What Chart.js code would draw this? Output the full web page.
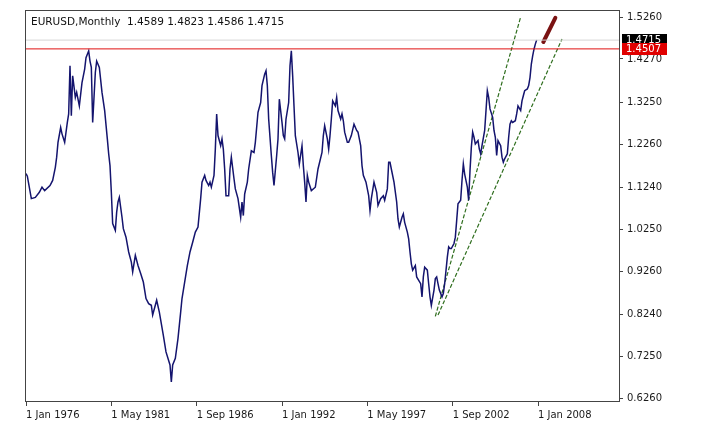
<!DOCTYPE html>
<html>
<head>
<meta charset="utf-8">
<script src="https://cdn.jsdelivr.net/npm/chart.js@4.4.1/dist/chart.umd.min.js"></script>
<style>
body{margin:0;background:#fff}
#grafica{display:block}
</style>
</head>
<body>
<canvas id="grafica" width="709" height="434"></canvas>
<script>
const $grafica = document.querySelector("#grafica");

const titulo = "EURUSD,Monthly  1.4589 1.4823 1.4586 1.4715";

// meses contados desde ene 1976
const meses = [
  0,1,4,7,10,12,14,18,20,22,
  23,24,26,27,29,31,32,33,34,35,
  37,38,40,42,44,45,47,48,49,50,
  52,53,55,57,59,61,62,63,64,65,
  67,68,69,70,72,73,75,77,79,80,
  82,84,86,88,90,92,94,95,98,100,
  103,105,108,109,110,112,114,116,117,119,
  121,123,125,127,129,131,132,134,135,137,
  138,139,141,142,143,144,146,147,148,149,
  150,152,153,154,156,157,159,161,162,163,
  164,166,167,169,171,172,174,176,177,179,
  180,181,182,184,185,186,188,189,190,192,
  193,194,195,197,198,199,200,201,202,204,
  205,207,208,209,210,211,212,214,217,219,
  222,223,224,226,227,228,229,230,232,233,
  234,236,237,238,239,241,242,244,246,248,
  249,251,252,253,255,257,258,259,261,263,
  264,266,268,269,271,272,273,274,276,278,
  279,280,282,283,284,286,287,288,289,290,
  292,293,296,297,298,299,301,302,303,304,
  306,307,308,309,310,312,313,314,316,317,
  318,319,321,322,323,324,326,327,328,329,
  331,332,333,334,335,336,337,339,340,341,
  342,344,345,346,347,348,350,351,352,353,
  354,356,357,358,359,361,362,363,364,365,
  367,368,369,371,372,373,374,376,377,378,
  379,380,381,382,383
];
const cierres = [
  1.156,1.150,1.097,1.100,1.112,1.124,1.116,1.128,1.140,1.171,
  1.195,1.230,1.265,1.250,1.230,1.277,1.297,1.411,1.293,1.387,
  1.336,1.348,1.316,1.371,1.403,1.430,1.446,1.422,1.407,1.277,
  1.395,1.422,1.407,1.348,1.305,1.238,1.203,1.175,1.112,1.038,
  1.022,1.065,1.089,1.100,1.053,1.026,1.006,0.971,0.947,0.924,
  0.963,0.939,0.920,0.900,0.861,0.849,0.845,0.822,0.857,0.829,
  0.774,0.735,0.704,0.664,0.704,0.720,0.767,0.829,0.861,0.900,
  0.939,0.971,0.994,1.018,1.030,1.097,1.136,1.152,1.140,1.128,
  1.136,1.124,1.152,1.214,1.297,1.246,1.222,1.238,1.214,1.167,
  1.104,1.104,1.167,1.195,1.144,1.120,1.097,1.053,1.089,1.057,
  1.108,1.136,1.167,1.210,1.206,1.230,1.301,1.324,1.364,1.391,
  1.399,1.364,1.285,1.199,1.159,1.128,1.199,1.238,1.332,1.277,
  1.246,1.238,1.285,1.324,1.411,1.446,1.387,1.316,1.246,1.206,
  1.179,1.222,1.175,1.136,1.089,1.152,1.136,1.116,1.124,1.167,
  1.206,1.246,1.269,1.238,1.214,1.246,1.285,1.328,1.316,1.336,
  1.305,1.285,1.297,1.281,1.254,1.230,1.230,1.246,1.273,1.258,
  1.254,1.222,1.175,1.152,1.136,1.104,1.069,1.097,1.136,1.112,
  1.081,1.097,1.104,1.093,1.120,1.183,1.183,1.167,1.136,1.089,
  1.049,1.030,1.053,1.061,1.041,1.018,1.002,0.971,0.943,0.928,
  0.939,0.912,0.896,0.865,0.912,0.935,0.928,0.896,0.865,0.845,
  0.881,0.908,0.912,0.896,0.881,0.865,0.873,0.896,0.959,0.983,
  0.979,0.979,0.991,1.006,1.045,1.085,1.093,1.140,1.179,1.155,
  1.124,1.093,1.163,1.218,1.254,1.242,1.226,1.234,1.214,1.203,
  1.222,1.258,1.305,1.352,1.336,1.309,1.289,1.258,1.242,1.199,
  1.234,1.222,1.195,1.183,1.191,1.203,1.242,1.273,1.281,1.277,
  1.281,1.297,1.316,1.305,1.328,1.340,1.352,1.356,1.364,1.383,
  1.415,1.434,1.450,1.462,1.4715
];

const marcasX = [0, 64, 128, 192, 256, 320, 384];
const etiquetasX = ["1 Jan 1976", "1 May 1981", "1 Sep 1986", "1 Jan 1992", "1 May 1997", "1 Sep 2002", "1 Jan 2008"];
const marcasY = [0.6260, 0.7250, 0.8240, 0.9260, 1.0250, 1.1240, 1.2260, 1.3250, 1.4270, 1.5260];

const nivelBid = 1.4715;
const nivelAlerta = 1.4507;

// lineas de tendencia (mes, precio)
const tendenciaA_x = [307, 371];
const tendenciaA_y = [0.819, 1.526];
const tendenciaB_x = [309, 402];
const tendenciaB_y = [0.822, 1.474];
// trazo a mano (flecha)
const trazo_x = [388, 397];
const trazo_y = [1.467, 1.524];

const xMin = -0.75, xMax = 444.75;
const yMin = 0.6166, yMax = 1.5426;

const puntos = (xs, ys) => xs.map((x, i) => ({ x: x, y: ys[i] }));

const marco = {
    id: 'marco',
    afterDraw(chart) {
        const { ctx, chartArea: a, scales } = chart;
        ctx.save();
        ctx.strokeStyle = '#444';
        ctx.lineWidth = 1;
        ctx.strokeRect(a.left + 0.5, a.top + 0.5, a.right - a.left, a.bottom - a.top - 1);
        ctx.font = '10.5px "DejaVu Sans"';
        ctx.textBaseline = 'middle';
        ctx.fillStyle = '#111';
        ctx.fillText(titulo, a.left + 6, a.top + 12);
        ctx.font = '10px "DejaVu Sans"';
        const caja = (v, fondo) => {
            const y = Math.round(scales.y.getPixelForValue(v));
            ctx.fillStyle = fondo;
            ctx.fillRect(a.right + 3, y - 6, 45, 12);
            ctx.fillStyle = '#fff';
            ctx.fillText(v.toFixed(4), a.right + 7, y);
        };
        caja(nivelBid, '#000');
        caja(nivelAlerta, '#e00000');
        ctx.restore();
    }
};

new Chart($grafica, {
    type: 'line',
    data: {
        datasets: [
            { data: puntos([xMin, xMax], [nivelBid, nivelBid]), borderColor: '#d6d6d6', borderWidth: 1 },
            { data: puntos([xMin, xMax], [nivelAlerta, nivelAlerta]), borderColor: '#e01010', borderWidth: 1 },
            { data: puntos(meses, cierres), borderColor: '#14146e', borderWidth: 1.5 },
            { data: puntos(tendenciaA_x, tendenciaA_y), borderColor: '#2f6e1e', borderWidth: 1.2, borderDash: [4, 2] },
            { data: puntos(tendenciaB_x, tendenciaB_y), borderColor: '#2f6e1e', borderWidth: 1.2, borderDash: [4, 2] },
            { data: puntos(trazo_x, trazo_y), borderColor: '#7a1212', borderWidth: 4, borderCapStyle: 'round' },
        ]
    },
    options: {
        responsive: false,
        animation: false,
        devicePixelRatio: 1,
        layout: { padding: { left: 25, top: 9, right: 0, bottom: 0 } },
        elements: { point: { radius: 0 }, line: { tension: 0 } },
        plugins: { legend: { display: false }, tooltip: { enabled: false } },
        scales: {
            x: {
                type: 'linear',
                min: xMin,
                max: xMax,
                afterBuildTicks: s => { s.ticks = marcasX.map(v => ({ value: v })); },
                afterFit: s => { s.height = 32; },
                border: { display: false },
                grid: { drawOnChartArea: false, drawTicks: true, tickLength: 4, color: '#444' },
                ticks: {
                    autoSkip: false, maxRotation: 0, align: 'start', padding: 3,
                    color: '#1a1a1a', font: { family: 'DejaVu Sans', size: 10 },
                    callback: v => etiquetasX[marcasX.indexOf(v)]
                }
            },
            y: {
                type: 'linear',
                position: 'right',
                min: yMin,
                max: yMax,
                afterBuildTicks: s => { s.ticks = marcasY.map(v => ({ value: v })); },
                afterFit: s => { s.width = 90; },
                border: { display: false },
                grid: { drawOnChartArea: false, drawTicks: true, tickLength: 4, color: '#444' },
                ticks: {
                    autoSkip: false, padding: 4,
                    color: '#1a1a1a', font: { family: 'DejaVu Sans', size: 10 },
                    callback: v => v.toFixed(4)
                }
            }
        }
    },
    plugins: [marco]
});
</script>
</body>
</html>
